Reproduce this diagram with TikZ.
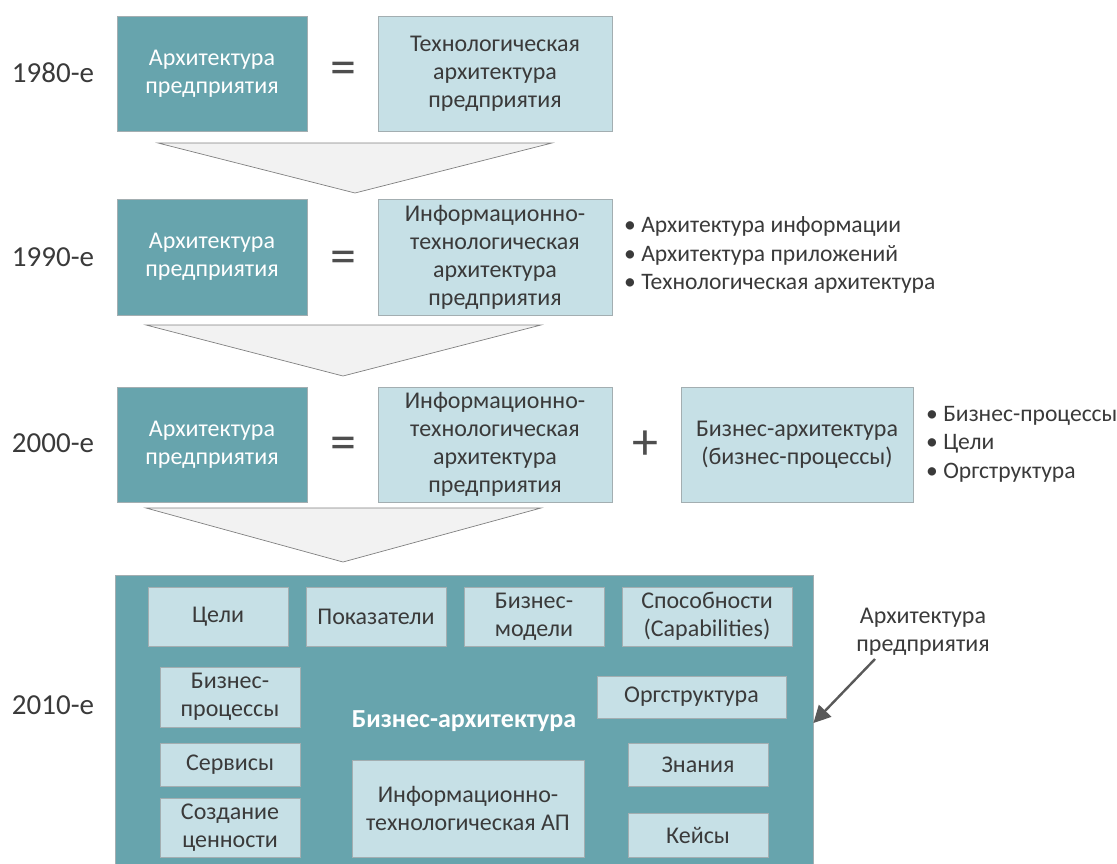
\documentclass[tikz,border=0pt]{standalone}
\usepackage{fontspec}
\setmainfont{Carlito}
\usetikzlibrary{arrows.meta}
\definecolor{teal}{HTML}{67A4AD}
\definecolor{pale}{HTML}{C6E0E6}
\definecolor{edge}{HTML}{A3AEB1}
\definecolor{ink}{HTML}{3A3A3A}
\definecolor{funnelfill}{HTML}{F2F2F2}
\definecolor{funneledge}{HTML}{808080}
\definecolor{arrowgray}{HTML}{595959}
\tikzset{
  txt/.style={font=\fontsize{24}{28}\selectfont, align=center, inner sep=0pt},
  darkbox/.style={txt, fill=teal, draw=edge, line width=0.8pt, text=white},
  palebox/.style={txt, fill=pale, draw=edge, line width=0.8pt, text=ink},
  year/.style={font=\fontsize{29}{32}\selectfont, text=ink, inner sep=0pt},
  sign/.style={font=\fontsize{52}{52}\selectfont, text=ink!90, inner sep=0pt},
  bullets/.style={font=\fontsize{23.6}{28.5}\selectfont, align=left, text=ink, inner sep=0pt, anchor=west},
  funnel/.style={fill=funnelfill, draw=funneledge, line width=0.7pt},
  arr/.style={draw=arrowgray, line width=2.4pt, -{Triangle[length=17pt,width=17pt]}},
}
\begin{document}
\begin{tikzpicture}[x=1pt,y=-1pt]
\useasboundingbox (0,0) rectangle (1117,863);

% 1980s
\node[year] (y1) at (53,73) {1980-е};
\node[darkbox, minimum width=190, minimum height=115] (d1) at (212,73.5) {Архитектура\\предприятия};
\node[sign] (e1) at (343,73) {=};
\node[palebox, minimum width=234, minimum height=115] (t1) at (495,73.5) {Технологическая\\архитектура\\предприятия};

% first funnel
\draw[funnel] (158,143) -- (552,143) -- (355,193) -- cycle;

% 1990s
\node[year] (y2) at (53,257) {1990-е};
\node[darkbox, minimum width=190, minimum height=116] (d2) at (212,257) {Архитектура\\предприятия};
\node[sign] (e2) at (343,262) {=};
\node[palebox, minimum width=234, minimum height=116] (t2) at (495,257) {Информационно-\\технологическая\\архитектура\\предприятия};
\node[bullets] (l2) at (624,255) {• Архитектура информации\\• Архитектура приложений\\• Технологическая архитектура};

% second funnel
\draw[funnel] (146,325) -- (541,325) -- (343,376) -- cycle;

% 2000s
\node[year] (y3) at (53,443) {2000-е};
\node[darkbox, minimum width=190, minimum height=115] (d3) at (212,444.5) {Архитектура\\предприятия};
\node[sign] (e3) at (343,448) {=};
\node[sign] (p3) at (645,445) {+};
\node[palebox, minimum width=234, minimum height=115] (t3) at (495,444.5) {Информационно-\\технологическая\\архитектура\\предприятия};
\node[palebox, minimum width=232, minimum height=115] (b3) at (797,444.5) {Бизнес-архитектура\\(бизнес-процессы)};
\node[bullets] (l3) at (926,444) {• Бизнес-процессы\\• Цели\\• Оргструктура};

% third funnel
\draw[funnel] (146,508) -- (541,508) -- (343,562) -- cycle;

% 2010s
\node[year] (y4) at (53,705) {2010-е};
\node[darkbox, minimum width=698, minimum height=296] (big) at (464,723) {};
\node[txt, text=white, font=\fontsize{26}{30}\selectfont\bfseries] (ba) at (464,721) {Бизнес-архитектура};

\node[palebox, minimum width=140, minimum height=59] (goals) at (218,616.5) {Цели};
\node[palebox, minimum width=140, minimum height=59] (kpi) at (376,616.5) {Показатели};
\node[palebox, minimum width=140, minimum height=59] (models) at (534,616.5) {Бизнес-\\модели};
\node[palebox, minimum width=170, minimum height=59] (caps) at (707,616.5) {Способности\\(Capabilities)};
\node[palebox, minimum width=140, minimum height=60] (procs) at (230,697) {Бизнес-\\процессы};
\node[palebox, minimum width=140, minimum height=43] (serv) at (230,764.5) {Сервисы};
\node[palebox, minimum width=140, minimum height=59] (value) at (230,827.5) {Создание\\ценности};
\node[palebox, minimum width=232, minimum height=97] (itea) at (468,808.5) {Информационно-\\технологическая АП};
\node[palebox, minimum width=189, minimum height=42] (org) at (691.5,697) {Оргструктура};
\node[palebox, minimum width=140, minimum height=43] (know) at (698,764.5) {Знания};
\node[palebox, minimum width=140, minimum height=44] (cases) at (698,835) {Кейсы};

% callout
\node[txt, text=ink] (ea) at (923,632) {Архитектура\\предприятия};
\coordinate (tail) at (875,659);
\draw[arr] (tail) -- (big.east);
\end{tikzpicture}
\end{document}
